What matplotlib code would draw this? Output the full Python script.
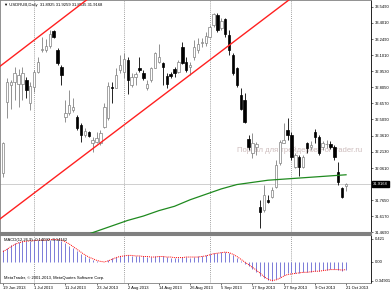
import numpy as np
import pandas as pd
import matplotlib
matplotlib.use("Agg")
import matplotlib.pyplot as plt
import matplotlib.transforms as mtransforms

plt.rcParams['font.family'] = ['Liberation Sans', 'DejaVu Sans']

# daily bars, 19 Jun 2013 .. 21 Oct 2013 (weekdays)
dates = pd.bdate_range('2013-06-19', '2013-10-21')

opens = [32.02, 32.67, 32.83, 32.85, 32.84, 32.84, 32.87, 32.66, 32.81, 32.95,
         33.15, 33.15, 33.19, 33.32, 33.15, 32.99, 32.53, 32.57, 32.60, 32.53,
         32.46, 32.37, 32.39, 32.29, 32.30, 32.29, 32.44, 32.52, 32.81, 32.80,
         32.96, 32.95, 33.06, 32.83, 32.90, 32.98, 32.94, 32.80, 32.87, 32.98,
         33.04, 33.03, 32.91, 32.93, 32.97, 32.95, 33.18, 33.04, 32.99, 33.08,
         33.15, 33.21, 33.21, 33.27, 33.38, 33.47, 33.35, 33.43, 33.29, 33.10,
         32.98, 32.73, 32.69, 32.33, 32.20, 32.26, 31.70, 31.68, 31.77, 31.80,
         31.89, 32.11, 32.29, 32.41, 32.37, 32.07, 32.16, 32.07, 32.29, 32.26,
         32.39, 32.35, 32.26, 32.28, 32.28, 32.26, 32.03, 31.88, 31.8925]
highs = [32.30, 32.89, 32.87, 32.99, 32.97, 32.99, 32.90, 32.85, 32.96, 33.08,
         33.27, 33.25, 33.33, 33.33, 33.17, 33.01, 32.69, 32.78, 32.71, 32.55,
         32.48, 32.43, 32.40, 32.35, 32.39, 32.41, 32.66, 32.85, 32.85, 32.98,
         33.10, 33.12, 33.08, 32.94, 32.95, 33.08, 32.96, 32.87, 32.99, 33.13,
         33.20, 33.04, 32.94, 32.95, 32.99, 33.06, 33.22, 33.08, 33.04, 33.24,
         33.26, 33.26, 33.31, 33.38, 33.49, 33.49, 33.44, 33.44, 33.33, 33.12,
         32.99, 32.80, 32.75, 32.37, 32.38, 32.30, 31.77, 31.91, 31.81, 31.89,
         32.14, 32.32, 32.48, 32.52, 32.39, 32.20, 32.18, 32.18, 32.30, 32.31,
         32.42, 32.37, 32.31, 32.32, 32.31, 32.27, 32.12, 31.89, 31.9259]
lows = [31.98, 32.52, 32.61, 32.69, 32.62, 32.69, 32.71, 32.60, 32.76, 32.94,
        33.13, 33.13, 33.17, 33.26, 33.01, 32.83, 32.49, 32.55, 32.58, 32.41,
        32.30, 32.35, 32.35, 32.21, 32.29, 32.27, 32.43, 32.50, 32.66, 32.80,
        32.94, 32.89, 32.74, 32.81, 32.83, 32.95, 32.87, 32.78, 32.85, 32.98,
        33.03, 32.83, 32.80, 32.89, 32.90, 32.94, 33.02, 32.95, 32.92, 33.06,
        33.12, 33.18, 33.19, 33.26, 33.36, 33.31, 33.33, 33.27, 33.10, 32.92,
        32.81, 32.60, 32.48, 32.23, 32.15, 32.18, 31.51, 31.66, 31.74, 31.79,
        31.88, 32.09, 32.29, 32.32, 32.14, 32.06, 31.99, 32.06, 32.20, 32.23,
        32.29, 32.18, 32.23, 32.25, 32.24, 32.14, 31.91, 31.79, 31.8535]
closes = [32.29, 32.85, 32.85, 32.94, 32.92, 32.94, 32.78, 32.82, 32.95, 33.04,
          33.16, 33.19, 33.30, 33.27, 33.03, 32.92, 32.57, 32.64, 32.62, 32.43,
          32.37, 32.40, 32.36, 32.32, 32.34, 32.38, 32.62, 32.82, 32.80, 32.92,
          33.01, 33.07, 32.87, 32.90, 32.93, 32.96, 32.89, 32.84, 32.98, 33.12,
          33.08, 32.99, 32.84, 32.91, 32.94, 33.04, 33.03, 32.96, 33.01, 33.18,
          33.20, 33.22, 33.28, 33.36, 33.48, 33.33, 33.42, 33.30, 33.15, 32.94,
          32.83, 32.61, 32.49, 32.26, 32.29, 32.28, 31.66, 31.81, 31.75, 31.86,
          32.09, 32.30, 32.32, 32.37, 32.16, 32.18, 32.07, 32.16, 32.25, 32.27,
          32.35, 32.20, 32.29, 32.285, 32.26, 32.16, 31.93, 31.80, 31.9168]

# MACD(12,26,9) main (histogram) and signal
macd = [0.21, 0.26, 0.31, 0.35, 0.37, 0.39, 0.39, 0.39, 0.40, 0.40,
        0.40, 0.41, 0.41, 0.42, 0.41, 0.39, 0.35, 0.30, 0.25, 0.20,
        0.15, 0.11, 0.07, 0.04, 0.01, -0.01, 0.00, 0.04, 0.07, 0.09,
        0.11, 0.12, 0.12, 0.11, 0.11, 0.11, 0.10, 0.09, 0.09, 0.10,
        0.10, 0.10, 0.09, 0.08, 0.08, 0.08, 0.09, 0.09, 0.08, 0.09,
        0.10, 0.11, 0.12, 0.14, 0.16, 0.17, 0.18, 0.18, 0.16, 0.12,
        0.07, 0.02, -0.03, -0.08, -0.13, -0.18, -0.25, -0.30, -0.34, -0.35,
        -0.32, -0.28, -0.24, -0.21, -0.21, -0.20, -0.20, -0.19, -0.18, -0.18,
        -0.17, -0.16, -0.15, -0.14, -0.13, -0.13, -0.14, -0.16, -0.14]
signal = [0.19, 0.23, 0.28, 0.32, 0.35, 0.37, 0.38, 0.39, 0.39, 0.40,
          0.40, 0.40, 0.41, 0.41, 0.41, 0.40, 0.37, 0.33, 0.28, 0.23,
          0.18, 0.13, 0.09, 0.06, 0.03, 0.01, 0.00, 0.02, 0.05, 0.08,
          0.10, 0.11, 0.12, 0.12, 0.11, 0.11, 0.10, 0.10, 0.09, 0.09,
          0.10, 0.10, 0.09, 0.09, 0.08, 0.08, 0.08, 0.09, 0.09, 0.09,
          0.09, 0.10, 0.11, 0.13, 0.15, 0.16, 0.17, 0.18, 0.17, 0.14,
          0.10, 0.05, 0.00, -0.05, -0.10, -0.15, -0.21, -0.27, -0.32, -0.34,
          -0.33, -0.30, -0.26, -0.23, -0.22, -0.21, -0.20, -0.19, -0.19, -0.18,
          -0.17, -0.17, -0.16, -0.15, -0.14, -0.14, -0.14, -0.15, -0.14]

# green moving average, read every 4th bar
ma_idx = [20, 24, 28, 32, 36, 40, 44, 48, 52, 56, 60, 64, 68, 72, 76, 80, 84, 88]
ma_val = [31.43, 31.48, 31.53, 31.58, 31.62, 31.67, 31.71, 31.77, 31.82, 31.87,
          31.91, 31.93, 31.95, 31.96, 31.97, 31.98, 31.99, 32.00]

# channel lines (two points each: bar index, price)
lower_line = [(23, 32.24), (48, 32.92)]
upper_line = [(0, 33.02), (12, 33.35)]

price_ticks = [33.5490, 33.4010, 33.2490, 33.1010, 32.9530, 32.8050, 32.6570,
               32.5090, 32.3610, 32.2130, 32.0610, 31.7650, 31.6170, 31.4690]
bid = 31.9168
macd_ticks = [0.421, 0.0, -0.34901]
macd_tick_labels = ['0.421', '0.00', '-0.34901']

x = np.arange(len(dates))
o = np.array(opens)
c = np.array(closes)
up = c >= o

W, H = 391, 293
fig = plt.figure(figsize=(W / 100, H / 100), dpi=100)
ax = fig.add_axes([0, 1 - 233 / H, 371 / W, 233 / H])
ax2 = fig.add_axes([0, 10 / H, 371 / W, 48 / H])

# month separators
month_starts = [i for i in range(1, len(dates)) if dates[i].month != dates[i - 1].month]
for a in (ax, ax2):
    for m in month_starts:
        a.axvline(m, color='#808080', lw=0.6, ls=(0, (1, 1.5)), zorder=1)

# bid line
ax.axhline(bid, color='#c8c8c8', lw=0.6, zorder=1)

# candles: wicks then bodies
ax.vlines(x[up], np.array(lows)[up], np.array(highs)[up], color='#808080', lw=0.6, zorder=2)
ax.vlines(x[~up], np.array(lows)[~up], np.array(highs)[~up], color='black', lw=0.6, zorder=2)
ax.bar(x[up], (c - o)[up], bottom=o[up], width=0.62, color='white',
       edgecolor='#808080', linewidth=0.5, zorder=3)
ax.bar(x[~up], (o - c)[~up], bottom=c[~up], width=0.62, color='black',
       edgecolor='black', linewidth=0.5, zorder=3)

# moving average and channel
ax.plot(ma_idx, ma_val, color='#1f8a1f', lw=0.9, zorder=4)
ax.axline(lower_line[0], lower_line[1], color='#ff2020', lw=1.0, zorder=4)
ax.axline(upper_line[0], upper_line[1], color='#ff2020', lw=1.0, zorder=4)

ax.set_xlim(-0.77, 94.4)
ax.set_ylim(31.464, 33.609)
ax.yaxis.tick_right()
ax.set_yticks(price_ticks)
ax.set_yticklabels(['%.4f' % v for v in price_ticks])
ax.tick_params(axis='y', labelsize=3, length=1.5, width=0.4, pad=1)
ax.set_xticks([])

# bid label on the price scale
trans = mtransforms.blended_transform_factory(ax.transAxes, ax.transData)
ax.text(1.006, bid, '%.4f' % bid, transform=trans, fontsize=3, color='white',
        va='center', ha='left', clip_on=False,
        bbox=dict(facecolor='black', edgecolor='black', pad=0.6))

ax.text(0.01, 0.985, '\u25bc USDRUB,Daily  31.8925 31.9259 31.8535 31.9168',
        transform=ax.transAxes, fontsize=3, va='top', ha='left')
ax.text(0.64, 0.355, 'Портал для трейдеров ForTrader.ru', transform=ax.transAxes,
        fontsize=5.5, color='#c4b0b0', alpha=0.85, va='center', ha='left', zorder=0)

# MACD panel
ax2.vlines(x, 0, macd, color='#7b7bd8', lw=0.7)
ax2.plot(x, signal, color='red', lw=0.7, ls=(0, (1, 1)))
ax2.set_xlim(-0.77, 94.4)
ax2.set_ylim(-0.386, 0.494)
ax2.yaxis.tick_right()
ax2.set_yticks(macd_ticks)
ax2.set_yticklabels(macd_tick_labels)
ax2.tick_params(axis='y', labelsize=3, length=1.5, width=0.4, pad=1)
tick_pos = list(range(0, len(dates), 8))
ax2.set_xticks(tick_pos)
ax2.set_xticklabels([f'{dates[i].day} {dates[i]:%b %Y}' for i in tick_pos],
                    ha='left')
ax2.tick_params(axis='x', labelsize=3, length=1.5, width=0.4, pad=1)
ax2.text(0.01, 0.93, 'MACD(12,26,9) -0.14092 -0.14162', transform=ax2.transAxes,
         fontsize=3, va='top', ha='left')
ax2.text(0.01, 0.06, 'MetaTrader, \u00a9 2001-2013, MetaQuotes Software Corp.',
         transform=ax2.transAxes, fontsize=3, va='bottom', ha='left')

for a in (ax, ax2):
    for s in a.spines.values():
        s.set_linewidth(0.6)
        s.set_color('#808080')
    a.spines['right'].set_color('black')
ax.spines['bottom'].set_linewidth(1.5)
ax2.spines['top'].set_linewidth(1.5)

fig.savefig('out.png', dpi=100)
